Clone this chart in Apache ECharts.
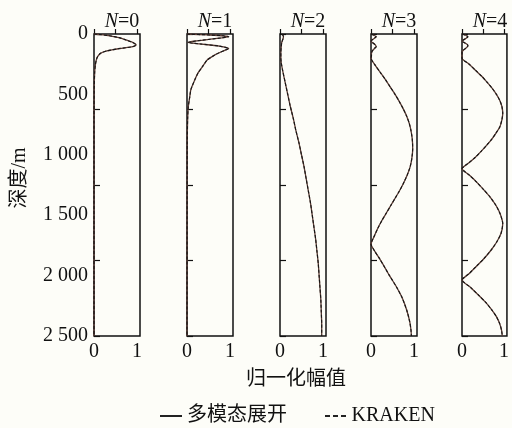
<!DOCTYPE html>
<html>
<head>
<meta charset="utf-8">
<script src="https://cdn.jsdelivr.net/npm/echarts@6/dist/echarts.min.js"></script>
<style>
  html, body { margin: 0; padding: 0; background: #fdfdf8; }
  #main { width: 512px; height: 428px; }
</style>
</head>
<body>
<div id="main"></div>
<script>
// 模态编号
const modeTitles = ['0', '1', '2', '3', '4'];
// 深度刻度标签
const yTickLabels = ['0', '500', '1 000', '1 500', '2 000', '2 500'];
const xTickLabels = ['0', '1'];

// 各阶模态: 深度(m) 和 归一化幅值
const depth0 = [0, 5, 15, 30, 50, 70, 91, 105, 120, 140, 160, 190, 220, 260, 320, 450, 700, 2500];
const amp0   = [0, 0.15, 0.37, 0.58, 0.75, 0.9, 0.98, 0.9, 0.6, 0.3, 0.15, 0.08, 0.05, 0.03, 0.015, 0.005, 0, 0];

const depth1 = [0, 8, 15, 22, 32, 45, 58, 70, 82, 100, 120, 135, 155, 175, 215, 270, 320, 380, 460, 530, 600, 700, 900, 2500];
const amp1   = [0, 0.5, 0.85, 0.97, 0.8, 0.5, 0.2, 0.02, 0.3, 0.75, 0.97, 0.88, 0.75, 0.64, 0.47, 0.36, 0.26, 0.18, 0.09, 0.06, 0.03, 0.015, 0.005, 0];

const depth2 = [0, 20, 40, 70, 100, 150, 200, 240, 300, 400, 500, 600, 700, 800, 900, 1000, 1100, 1200, 1300, 1400, 1500, 1600, 1700, 1800, 1900, 2000, 2100, 2200, 2300, 2400, 2500];
const amp2   = [0.05, 0.08, 0.07, 0.04, 0.03, 0.02, 0.02, 0.03, 0.06, 0.12, 0.18, 0.24, 0.31, 0.37, 0.44, 0.5, 0.56, 0.61, 0.66, 0.71, 0.75, 0.79, 0.83, 0.86, 0.89, 0.91, 0.93, 0.95, 0.96, 0.97, 0.97];

const depth3 = [0, 10, 22, 35, 50, 62, 75, 90, 105, 120, 140, 160, 180, 200, 260, 320, 380, 440, 500, 560, 620, 680, 740, 800, 870, 950, 1030, 1100, 1170, 1240, 1300, 1360, 1420, 1480, 1540, 1600, 1670, 1740, 1800, 1860, 1926, 2000, 2092, 2180, 2285, 2380, 2450, 2500];
const amp3   = [0, 0.07, 0.12, 0.08, 0.02, 0, 0.05, 0.1, 0.12, 0.08, 0.03, 0.01, 0.01, 0, 0.1, 0.22, 0.34, 0.45, 0.56, 0.66, 0.75, 0.83, 0.89, 0.93, 0.96, 0.97, 0.95, 0.91, 0.84, 0.75, 0.66, 0.56, 0.46, 0.36, 0.26, 0.17, 0.08, 0, 0.09, 0.2, 0.31, 0.43, 0.59, 0.72, 0.83, 0.9, 0.93, 0.94];

const depth4 = [0, 10, 22, 35, 50, 60, 72, 88, 100, 115, 135, 150, 200, 250, 300, 350, 400, 450, 500, 550, 600, 656, 710, 770, 820, 870, 920, 970, 1020, 1070, 1115, 1170, 1230, 1290, 1350, 1420, 1490, 1570, 1650, 1720, 1790, 1860, 1920, 1980, 2036, 2100, 2160, 2220, 2280, 2340, 2400, 2450, 2500];
const amp4   = [0, 0.08, 0.14, 0.1, 0.03, 0, 0.06, 0.13, 0.14, 0.1, 0.03, 0, 0, 0.17, 0.32, 0.47, 0.6, 0.72, 0.82, 0.9, 0.95, 0.97, 0.95, 0.9, 0.81, 0.71, 0.59, 0.46, 0.32, 0.15, 0, 0.18, 0.36, 0.52, 0.67, 0.81, 0.91, 0.97, 0.93, 0.83, 0.69, 0.52, 0.35, 0.18, 0, 0.21, 0.39, 0.56, 0.7, 0.82, 0.9, 0.94, 0.96];

const depths = [depth0, depth1, depth2, depth3, depth4];
const amps = [amp0, amp1, amp2, amp3, amp4];

const serif = "'Liberation Serif', 'Times New Roman', 'Noto Sans CJK SC', serif";
const panelLeft = [94, 187, 280, 371, 462];
const panelW = 46;
const panelTop = 34;
const panelH = 302;
const solidColor = '#5a3a32';
const dashColor = '#151515';

const chart = echarts.init(document.getElementById('main'));

const grid = [], xAxis = [], yAxis = [], series = [], title = [];
panelLeft.forEach((left, i) => {
  grid.push({
    left: left, top: panelTop, width: panelW, height: panelH,
    show: true, borderColor: '#111', borderWidth: 1.5, backgroundColor: 'transparent'
  });
  xAxis.push({
    type: 'value', gridIndex: i, min: 0, max: 1.07, interval: 0.5,
    axisLine: { show: false },
    axisTick: { show: true, inside: true, length: 5, lineStyle: { color: '#111', width: 1.2 } },
    splitLine: { show: false },
    axisLabel: {
      showMaxLabel: false, margin: 6, color: '#111', fontFamily: serif, fontSize: 20,
      formatter: v => (v === 0 ? xTickLabels[0] : v === 1 ? xTickLabels[1] : '')
    }
  });
  // 标签轴
  yAxis.push({
    type: 'value', gridIndex: i, min: 0, max: 2500, interval: 500, inverse: true,
    axisLine: { show: false },
    axisTick: { show: false },
    splitLine: { show: false },
    axisLabel: {
      show: i === 0, margin: 6, color: '#111', fontFamily: serif, fontSize: 20,
      formatter: v => yTickLabels[Math.round(v / 500)]
    }
  });
  // 刻度轴
  yAxis.push({
    type: 'value', gridIndex: i, min: 0, max: 2500, interval: 625, inverse: true,
    position: 'left',
    axisLine: { show: false },
    axisTick: { show: true, inside: true, length: 6, lineStyle: { color: '#111', width: 1.2 } },
    axisLabel: { show: false },
    splitLine: { show: false }
  });
  title.push({
    text: '{i|N}=' + modeTitles[i],
    left: left + panelW / 2, top: 7, textAlign: 'center',
    textStyle: {
      fontFamily: serif, fontSize: 20, fontWeight: 'normal', color: '#111',
      rich: { i: { fontStyle: 'italic', fontFamily: serif, fontSize: 20, color: '#111' } }
    }
  });
  const pts = depths[i].map((d, k) => [amps[i][k], d]);
  series.push({
    name: '多模态展开', type: 'line', xAxisIndex: i, yAxisIndex: i * 2,
    data: pts, showSymbol: false, symbol: 'none', smooth: 0.2,
    itemStyle: { color: solidColor },
    lineStyle: { color: solidColor, width: 1.3 }, silent: true
  });
  series.push({
    name: 'KRAKEN', type: 'line', xAxisIndex: i, yAxisIndex: i * 2,
    data: pts, showSymbol: false, symbol: 'none', smooth: 0.2,
    itemStyle: { color: dashColor },
    lineStyle: { color: dashColor, width: 1.1, type: [3, 2] }, silent: true
  });
});

chart.setOption({
  backgroundColor: '#fdfdf8',
  animation: false,
  title: title,
  grid: grid,
  xAxis: xAxis,
  yAxis: yAxis,
  series: series,
  legend: {
    data: [
      { name: '多模态展开', icon: 'path://M0,0H22V2H0Z', itemStyle: { color: '#222' } },
      { name: 'KRAKEN', icon: 'path://M0,0H5V2H0Z M8,0H13V2H8Z M16,0H21V2H16Z', itemStyle: { color: '#222' } }
    ],
    left: 155, top: 401, itemWidth: 22, itemHeight: 2, itemGap: 38,
    textStyle: { fontFamily: serif, fontSize: 20, color: '#111' }
  },
  graphic: [
    {
      type: 'text', left: 246, top: 370,
      style: { text: '归一化幅值', fontFamily: serif, fontSize: 20, fill: '#111' }
    },
    {
      type: 'text', x: 20, y: 178, rotation: Math.PI / 2,
      style: { text: '深度/m', fontFamily: serif, fontSize: 20, fill: '#111', align: 'center', verticalAlign: 'middle' }
    }
  ]
});
</script>
</body>
</html>
